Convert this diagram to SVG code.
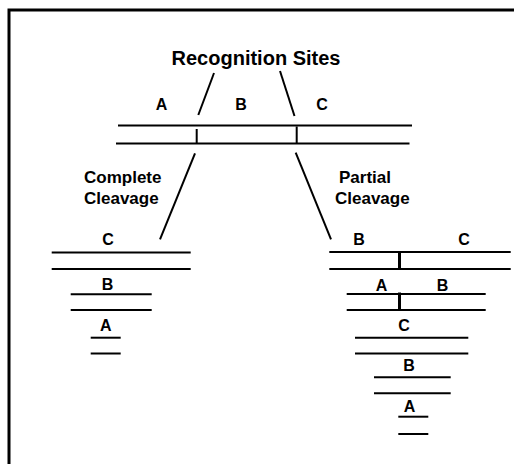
<svg xmlns="http://www.w3.org/2000/svg" width="514" height="464" viewBox="0 0 514 464">
<style>
text{font-family:"Liberation Sans",Arial,sans-serif;font-weight:bold;fill:#000}
.t{font-size:20px;text-anchor:middle}
.l{font-size:16px;text-anchor:middle}
.c{font-size:17px}
.s{stroke:#000;stroke-width:2;fill:none}
.k{stroke:#000;stroke-width:3;fill:none}
</style>
<rect x="0" y="0" width="514" height="464" fill="#fff"/>
<rect x="9" y="10" width="530" height="480" fill="none" stroke="#000" stroke-width="3"/>
<g id="title"><text class="t" x="256" y="65">Recognition Sites</text></g>
<g id="original">
<text class="l" x="161.5" y="110">A</text>
<text class="l" x="241" y="110">B</text>
<text class="l" x="322" y="110">C</text>
<line class="s" x1="118" y1="125.5" x2="412" y2="125.5"/>
<line class="s" x1="116" y1="143.5" x2="409.5" y2="143.5"/>
<line class="s" x1="196.7" y1="129" x2="196.7" y2="143.5"/>
<line class="s" x1="296.7" y1="126.5" x2="296.7" y2="143.5"/>
</g>
<g id="complete-label"><text class="c" x="84" y="183">Complete</text><text class="c" x="84" y="204">Cleavage</text></g>
<g id="partial-label"><text class="c" x="339" y="183">Partial</text><text class="c" x="335" y="204">Cleavage</text></g>
<g id="complete">
<text class="l" x="108" y="245">C</text>
<line class="s" x1="51.7" y1="252.5" x2="190.7" y2="252.5"/>
<line class="s" x1="51.7" y1="269" x2="190.7" y2="269"/>
<text class="l" x="107.5" y="290">B</text>
<line class="s" x1="70.7" y1="294.3" x2="151.7" y2="294.3"/>
<line class="s" x1="70.7" y1="310" x2="151.7" y2="310"/>
<text class="l" x="105.8" y="331">A</text>
<line class="s" x1="90.7" y1="337.7" x2="120.7" y2="337.7"/>
<line class="s" x1="90.7" y1="353.5" x2="120.7" y2="353.5"/>
</g>
<g id="partial">
<text class="l" x="359" y="245">B</text>
<text class="l" x="464" y="245">C</text>
<line class="s" x1="329.3" y1="252" x2="510.7" y2="252"/>
<line class="s" x1="329.3" y1="269" x2="510.7" y2="269"/>
<line class="k" x1="399.5" y1="253" x2="399.5" y2="269"/>
<text class="l" x="381.5" y="290.5">A</text>
<text class="l" x="442.5" y="290.5">B</text>
<line class="s" x1="346.7" y1="294" x2="485.7" y2="294"/>
<line class="s" x1="346.7" y1="310" x2="485.7" y2="310"/>
<line class="k" x1="399.5" y1="292.5" x2="399.5" y2="310"/>
<text class="l" x="404" y="330.5">C</text>
<line class="s" x1="355" y1="337.7" x2="468.3" y2="337.7"/>
<line class="s" x1="355" y1="353.5" x2="468.3" y2="353.5"/>
<text class="l" x="409" y="371">B</text>
<line class="s" x1="374" y1="377.3" x2="450.7" y2="377.3"/>
<line class="s" x1="374" y1="393.3" x2="450.7" y2="393.3"/>
<text class="l" x="409.5" y="412">A</text>
<line class="s" x1="398.3" y1="416.7" x2="428.3" y2="416.7"/>
<line class="s" x1="398.3" y1="434" x2="428.3" y2="434"/>
</g>
<g id="connectors">
<line class="s" x1="214" y1="73" x2="198.3" y2="115"/>
<line class="s" x1="280" y1="71" x2="294.5" y2="116"/>
<line class="s" x1="195" y1="153.3" x2="160" y2="239.3"/>
<line class="s" x1="295.7" y1="152.7" x2="331" y2="239.3"/>
</g>
</svg>
